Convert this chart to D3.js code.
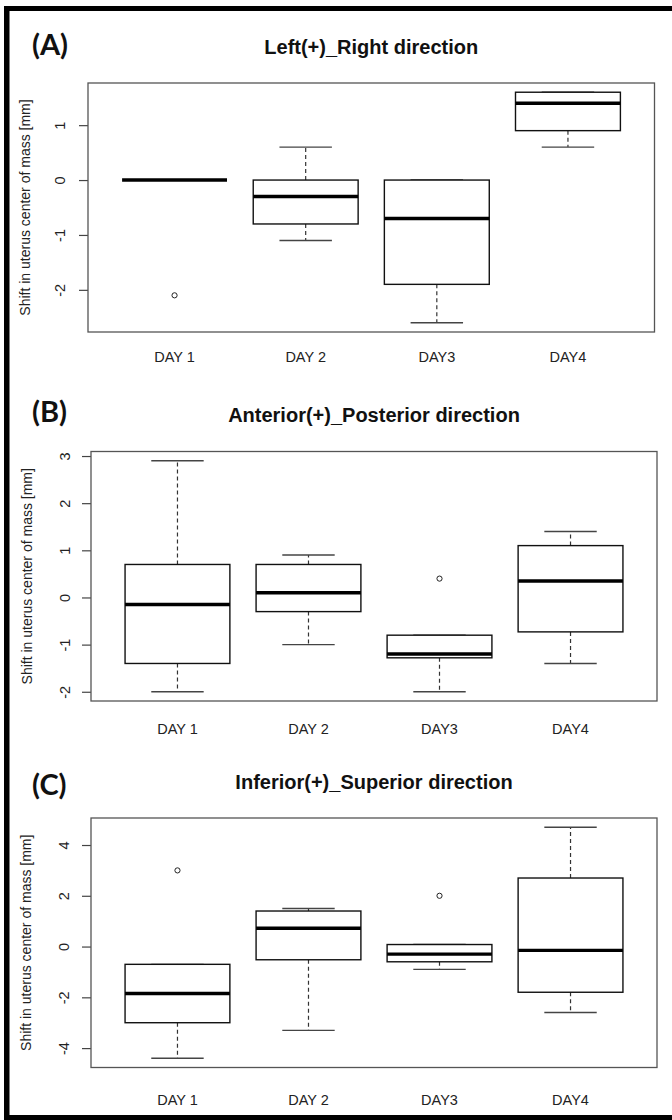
<!DOCTYPE html>
<html>
<head>
<meta charset="utf-8">
<script src="https://cdn.jsdelivr.net/npm/d3@7"></script>
<style>
  body { margin: 0; background: #fff; }
  svg { display: block; }
</style>
</head>
<body>
<script>
// categories
var days = ["DAY 1", "DAY 2", "DAY3", "DAY4"];
var titles = ["Left(+)_Right direction", "Anterior(+)_Posterior direction", "Inferior(+)_Superior direction"];
var panelTags = ["(A)", "(B)", "(C)"];
var yTitle = "Shift in uterus center of mass [mm]";

// box stats per day: [lower whisker, Q1, median, Q3, upper whisker]
var leftRightStats = [[0, 0, 0, 0, 0], [-1.1, -0.8, -0.3, 0, 0.6], [-2.6, -1.9, -0.7, 0, 0], [0.6, 0.9, 1.4, 1.6, 1.6]];
var leftRightOut = [[-2.1], [], [], []];

var antPostStats = [[-2.0, -1.4, -0.15, 0.7, 2.9], [-1.0, -0.3, 0.1, 0.7, 0.9], [-2.0, -1.28, -1.2, -0.8, -0.8], [-1.4, -0.73, 0.35, 1.1, 1.4]];
var antPostOut = [[], [], [0.4], []];

var infSupStats = [[-4.4, -3.0, -1.85, -0.7, -0.7], [-3.3, -0.52, 0.72, 1.4, 1.5], [-0.9, -0.6, -0.3, 0.08, 0.08], [-2.6, -1.8, -0.15, 2.7, 4.7]];
var infSupOut = [[3.0], [], [2.0], []];

var width = 672, height = 1120;

// layout of each panel (plot box edges, text rows)
var panels = [
    { stats: leftRightStats, out: leftRightOut, left: 88, right: 654.5, top: 83, bottom: 332, tagY: 55, titleY: 54, dayY: 362, tickX: 65, yTitleX: 30 },
    { stats: antPostStats, out: antPostOut, left: 91, right: 657, top: 451.5, bottom: 701, tagY: 422, titleY: 422, dayY: 733.5, tickX: 70, yTitleX: 32 },
    { stats: infSupStats, out: infSupOut, left: 91, right: 657, top: 818, bottom: 1067.5, tagY: 795, titleY: 789, dayY: 1104.5, tickX: 69, yTitleX: 31 }
];

var svg = d3.select("body").append("svg").attr("width", width).attr("height", height);

svg.append("rect").attr("width", width).attr("height", height).attr("fill", "#fff");

panels.forEach(function (p, k) {
    var g = svg.append("g");

    // R style ranges: xlim 0.5..n+0.5 and 4% padding on both axes
    var lo = d3.min(p.stats, function (s, i) { return d3.min([s[0]].concat(p.out[i])); });
    var hi = d3.max(p.stats, function (s, i) { return d3.max([s[4]].concat(p.out[i])); });
    var pad = (hi - lo) * 0.04;
    var y = d3.scaleLinear().domain([lo - pad, hi + pad]).range([p.bottom, p.top]);
    var x = d3.scaleLinear().domain([0.5 - 0.16, days.length + 0.5 + 0.16]).range([p.left, p.right]);
    var unit = x(1) - x(0);
    var boxW = unit * 0.8;

    // panel tag and title
    g.append("text")
        .attr("x", 32).attr("y", p.tagY)
        .style("font-family", "Lato, 'Open Sans', sans-serif")
        .style("font-weight", "bold")
        .style("font-size", "29px")
        .attr("fill", "#111")
        .text(panelTags[k]);

    g.append("text")
        .attr("x", (p.left + p.right) / 2).attr("y", p.titleY)
        .attr("text-anchor", "middle")
        .style("font-family", "'Liberation Sans', Arial, sans-serif")
        .style("font-weight", "bold")
        .style("font-size", "20px")
        .attr("fill", "#111")
        .text(titles[k]);

    // y axis
    var axis = g.append("g")
        .attr("transform", "translate(" + p.left + ",0)")
        .call(d3.axisLeft(y).ticks(5).tickSize(9).tickPadding(0).tickFormat(function (d) { return String(d); }));
    axis.select(".domain").remove();
    axis.selectAll(".tick line").attr("stroke", "#444").attr("stroke-width", 1.2);
    axis.selectAll(".tick text")
        .attr("x", null).attr("dy", null)
        .attr("text-anchor", "middle")
        .attr("transform", "translate(" + (p.tickX - p.left) + ",0) rotate(-90)")
        .style("font-family", "'Liberation Sans', Arial, sans-serif")
        .style("font-size", "14.5px")
        .attr("fill", "#222");

    g.append("text")
        .attr("transform", "translate(" + p.yTitleX + "," + ((p.top + p.bottom) / 2) + ") rotate(-90)")
        .attr("text-anchor", "middle")
        .style("font-family", "'Liberation Sans', Arial, sans-serif")
        .style("font-size", "14px")
        .attr("fill", "#222")
        .text(yTitle);

    // x labels
    g.selectAll(".day")
        .data(days)
        .enter()
        .append("text")
        .attr("x", function (d, i) { return x(i + 1); })
        .attr("y", p.dayY)
        .attr("text-anchor", "middle")
        .style("font-family", "'Liberation Sans', Arial, sans-serif")
        .style("font-size", "14.5px")
        .attr("fill", "#222")
        .text(function (d) { return d; });

    var box = g.selectAll(".bx")
        .data(p.stats)
        .enter()
        .append("g");

    // whiskers
    box.append("line")
        .attr("x1", function (d, i) { return x(i + 1); })
        .attr("x2", function (d, i) { return x(i + 1); })
        .attr("y1", function (d) { return y(d[3]); })
        .attr("y2", function (d) { return y(d[4]); })
        .attr("stroke", "#333").attr("stroke-width", 1.2).attr("stroke-dasharray", "4,3");
    box.append("line")
        .attr("x1", function (d, i) { return x(i + 1); })
        .attr("x2", function (d, i) { return x(i + 1); })
        .attr("y1", function (d) { return y(d[1]); })
        .attr("y2", function (d) { return y(d[0]); })
        .attr("stroke", "#333").attr("stroke-width", 1.2).attr("stroke-dasharray", "4,3");

    // staples
    [0, 4].forEach(function (j) {
        box.append("line")
            .attr("x1", function (d, i) { return x(i + 1) - boxW / 4; })
            .attr("x2", function (d, i) { return x(i + 1) + boxW / 4; })
            .attr("y1", function (d) { return y(d[j]); })
            .attr("y2", function (d) { return y(d[j]); })
            .attr("stroke", "#444").attr("stroke-width", 1.4);
    });

    // boxes
    box.append("rect")
        .attr("x", function (d, i) { return x(i + 1) - boxW / 2; })
        .attr("y", function (d) { return y(d[3]); })
        .attr("width", boxW)
        .attr("height", function (d) { return y(d[1]) - y(d[3]); })
        .attr("fill", "#fff")
        .attr("stroke", "#111").attr("stroke-width", 1.4);

    // medians
    box.append("line")
        .attr("x1", function (d, i) { return x(i + 1) - boxW / 2; })
        .attr("x2", function (d, i) { return x(i + 1) + boxW / 2; })
        .attr("y1", function (d) { return y(d[2]); })
        .attr("y2", function (d) { return y(d[2]); })
        .attr("stroke", "#000").attr("stroke-width", 3.4);

    // outliers
    p.out.forEach(function (vals, i) {
        g.selectAll(null)
            .data(vals)
            .enter()
            .append("circle")
            .attr("cx", x(i + 1))
            .attr("cy", function (v) { return y(v); })
            .attr("r", 2.6)
            .attr("fill", "none")
            .attr("stroke", "#222").attr("stroke-width", 1);
    });

    // plot frame
    g.append("rect")
        .attr("x", p.left).attr("y", p.top)
        .attr("width", p.right - p.left).attr("height", p.bottom - p.top)
        .attr("fill", "none")
        .attr("stroke", "#555").attr("stroke-width", 1.3);
});

// thick outer border (top, left, bottom)
svg.append("rect").attr("x", 4).attr("y", 6).attr("width", width - 4).attr("height", 5).attr("fill", "#000");
svg.append("rect").attr("x", 4).attr("y", 6).attr("width", 5.5).attr("height", height - 6).attr("fill", "#000");
svg.append("rect").attr("x", 4).attr("y", 1115).attr("width", width - 4).attr("height", 5).attr("fill", "#000");
</script>
</body>
</html>
